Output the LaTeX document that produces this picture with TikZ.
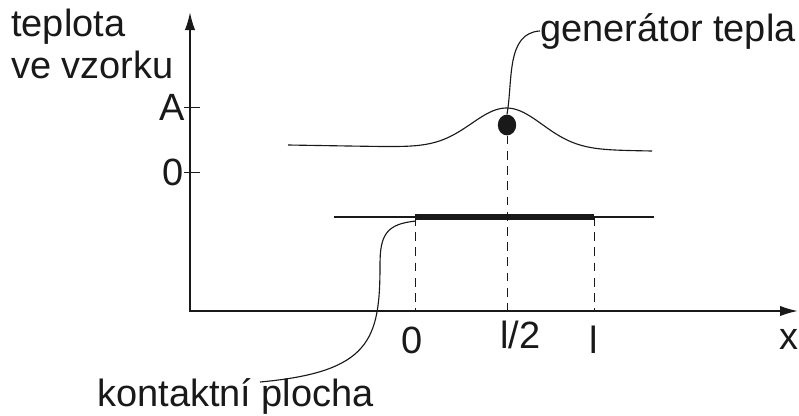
\documentclass[tikz,border=0pt]{standalone}
\usepackage{fontspec}
\setmainfont{Liberation Sans}
\usetikzlibrary{arrows.meta,shapes.geometric,calc}
\definecolor{tpink}{RGB}{25,25,25}
\tikzset{
  taxis/.style={line width=1.3pt,draw=tpink,{Latex[length=4.5mm,width=2.6mm]}-{Latex[length=4.5mm,width=2.6mm]}},
  ttick/.style={line width=0.6pt,draw=tpink},
  tlabel/.style={font=\fontsize{27}{30}\selectfont,inner sep=0pt,text=tpink},
  tthin/.style={line width=0.8pt,draw=tpink},
  tdash/.style={line width=0.6pt,draw=tpink,dash pattern=on 2.2mm off 1.6mm},
  tlead/.style={line width=0.8pt,draw=tpink},
  tbar/.style={line width=4.2pt,draw=tpink},
  tdot/.style={ellipse,fill=tpink,minimum width=4.6mm,minimum height=5.2mm,inner sep=0pt},
}

\begin{document}
\begin{tikzpicture}[x=0.025cm,y=-0.025cm]
\useasboundingbox (0,0) rectangle (799,415);

% ============ axes ============
\coordinate (O) at (190,311);
\coordinate (ytop) at (190,12);
\coordinate (xend) at (798,311);
\draw[taxis] (ytop) -- (O) -- (xend);
\node[tlabel,anchor=north west,align=left] (ylab) at (11,9) {teplota\\ve vzorku};
\draw[ttick] (184,107) -- (200,107);
\draw[ttick] (184,172) -- (200,172);
\node[tlabel,anchor=east] (lA) at (185,107) {A};
\node[tlabel,anchor=east] (lzero) at (184,172) {0};

% ============ temperature profile + heat source ============
\draw[tthin] plot[domain=288:652,samples=120,smooth]
  (\x,{145+(\x-288)*6/364-40.6*exp(-((\x-507)/50)*((\x-507)/50))});
\node[tdot] (gendot) at (507,125) {};
\node[tlabel,anchor=base west] (gen) at (540,41) {generátor tepla};
\draw[tlead] (gendot.north) .. controls (513,80) and (506,33) .. (gen.west);

% ============ sample and contact area ============
\coordinate (sl) at (334,217);
\coordinate (sr) at (654,217);
\coordinate (b0) at (415,217);
\coordinate (bl) at (594,217);
\draw[tthin] (sl) -- (sr);
\draw[tbar] (b0) -- (bl);
\draw[tdash] (b0) -- (b0 |- O);
\draw[tdash] (bl) -- (bl |- O);
\draw[tdash] (gendot.south) -- (gendot |- O);

\node[tlabel,anchor=base] (lzerox) at (412,353) {0};
\node[tlabel,anchor=base west] (lhalf) at (500,348) {l/2};
\node[tlabel,anchor=base] (lend) at (594,353) {l};
\node[tlabel,anchor=base west] (lx) at (779,349) {x};

\node[tlabel,anchor=base west] (kp) at (97,406) {kontaktní plocha};
\coordinate (kptop) at (260,382);
\draw[tlead] ($(b0)+(1,4)$) .. controls (386,224) and (380,235) .. (380,265)
  .. controls (380,340) and (370,372) .. (kptop);
\end{tikzpicture}
\end{document}
